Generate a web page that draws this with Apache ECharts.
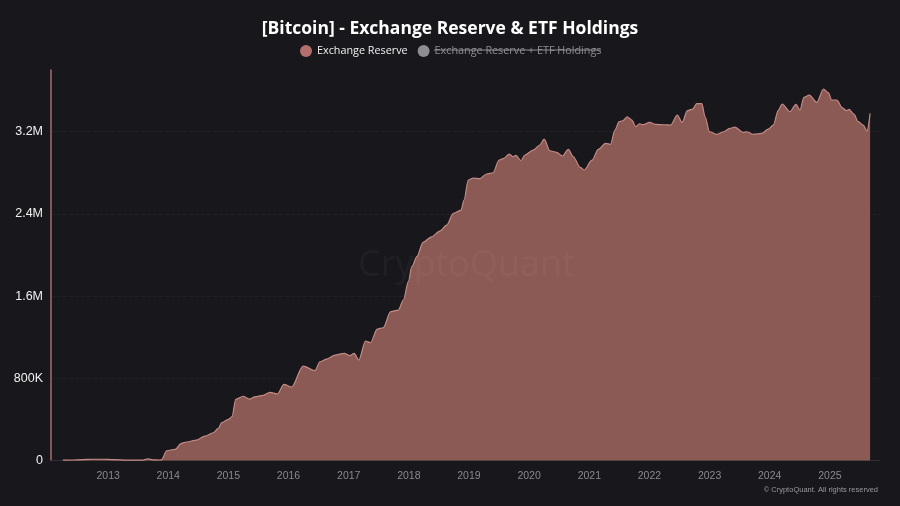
<!DOCTYPE html>
<html>
<head>
<meta charset="utf-8">
<style>html,body{margin:0;padding:0;background:#17171c}#c{width:900px;height:506px}</style>
<script src="https://cdn.jsdelivr.net/npm/echarts@6/dist/echarts.min.js"></script>
</head>
<body>
<div id="c"></div>
<script>
const titleText = '[Bitcoin] - Exchange Reserve & ETF Holdings';
const seriesA = 'Exchange Reserve';
const seriesB = 'Exchange Reserve + ETF Holdings';
const copyrightText = '© CryptoQuant. All rights reserved';
const watermarkText = 'CryptoQuant';
const dates = [
'2012-04-01','2012-06-01','2012-08-01','2012-10-01','2012-12-01','2013-02-01','2013-05-01','2013-08-01','2013-09-01','2013-10-01','2013-11-10','2013-11-22',
'2013-12-22','2014-02-12','2014-03-22','2014-04-22','2014-06-22','2014-08-12','2014-10-01','2014-11-01','2014-11-22','2015-01-01','2015-01-23','2015-02-15',
'2015-04-01','2015-05-10','2015-06-10','2015-08-01','2015-09-10','2015-10-25','2015-12-05','2016-01-20','2016-03-30','2016-06-10','2016-07-10','2016-08-20',
'2016-10-10','2016-12-05','2017-01-08','2017-02-03','2017-03-03','2017-04-13','2017-05-13','2017-06-23','2017-07-29','2017-09-13','2017-10-29','2017-11-29',
'2017-12-29','2018-01-19','2018-02-19','2018-03-28','2018-05-19','2018-07-08','2018-08-19','2018-09-28','2018-11-14','2018-12-02','2018-12-28','2019-01-27',
'2019-03-07','2019-04-18','2019-05-27','2019-07-03','2019-08-01','2019-09-03','2019-09-27','2019-10-13','2019-11-13','2019-12-07','2020-01-26','2020-03-06',
'2020-04-02','2020-05-06','2020-06-16','2020-07-22','2020-08-26','2020-09-26','2020-11-06','2020-12-01','2021-01-16','2021-02-25','2021-04-10','2021-05-10',
'2021-06-05','2021-07-01','2021-07-22','2021-08-19','2021-09-16','2021-10-10','2021-11-01','2021-11-25','2022-01-01','2022-02-05','2022-04-05','2022-05-10',
'2022-06-19','2022-07-19','2022-08-19','2022-09-21','2022-10-15','2022-11-15','2022-12-05','2023-01-01','2023-02-14','2023-03-28','2023-05-04','2023-06-04',
'2023-07-24','2023-08-14','2023-09-24','2023-11-14','2023-12-24','2024-01-23','2024-02-23','2024-03-17','2024-05-03','2024-06-09','2024-07-03','2024-07-27',
'2024-08-29','2024-10-13','2024-11-23','2024-12-22','2025-01-12','2025-02-12','2025-03-16','2025-04-12','2025-04-28','2025-05-26','2025-06-22','2025-07-22',
'2025-08-14','2025-09-02'
];
const reserveK = [
3,5,9,12,12,8,4,4,17,6,5,8,
95,109,167,180,199,238,270,313,368,400,426,595,
625,598,620,634,663,647,741,715,919,874,961,987,
1026,1043,1020,1043,978,1163,1146,1279,1292,1448,1464,1562,
1740,1886,1983,2123,2177,2233,2291,2405,2437,2535,2729,2749,
2742,2788,2800,2924,2940,2982,2956,2970,2917,2973,3021,3070,
3128,3014,2999,2963,3028,2956,2853,2827,2920,3028,3086,3077,
3216,3297,3306,3345,3313,3248,3277,3267,3291,3271,3267,3264,
3362,3291,3404,3420,3472,3472,3345,3199,3174,3199,3232,3245,
3193,3199,3174,3183,3225,3264,3410,3469,3394,3466,3410,3534,
3556,3485,3615,3579,3508,3508,3433,3404,3417,3371,3297,3264,
3206,3378
];
const chart = echarts.init(document.getElementById('c'));
chart.setOption({
  animation:false,
  backgroundColor:'#17171c',
  title:{text:titleText,left:'center',top:15,textStyle:{color:'#fff',fontFamily:'Open Sans',fontWeight:'bold',fontSize:17.5}},
  legend:{
    left:295,top:40,itemGap:10,itemWidth:12,itemHeight:12,icon:'circle',
    data:[seriesA,seriesB],selected:{[seriesB]:false},
    textStyle:{color:'#f0f0f0',fontFamily:'Open Sans',fontSize:10.8},
    inactiveColor:'#8e8e92',inactiveBorderColor:'#8e8e92'
  },
  grid:{left:51,right:20,top:70,bottom:45.5},
  xAxis:{
    type:'time',min:'2012-01-20',max:'2025-11-01',
    minInterval:365*24*3600*1000,maxInterval:366*24*3600*1000,
    axisLine:{show:true,lineStyle:{color:'#2e2e34',width:1}},
    axisTick:{show:false},
    splitLine:{show:false},
    axisLabel:{color:'#8a8a8e',fontFamily:'Liberation Sans',fontSize:10.5,margin:10,hideOverlap:false,
      formatter:{year:'{yyyy}',month:'',day:'',hour:'',minute:'',second:'',millisecond:'',none:''}}
  },
  yAxis:{
    type:'value',min:0,max:3800000,interval:800000,
    axisLine:{show:true,lineStyle:{color:'#a86c6c',width:1.5}},
    axisTick:{show:false},
    splitLine:{show:true,showMaxLine:false,lineStyle:{color:'#202025',width:1,type:'dashed'}},
    axisLabel:{color:'#f0f0f0',fontFamily:'Liberation Sans',fontSize:12.5,margin:8,
      formatter:function(v){
        if(v===0)return '0';
        if(v>3500000)return '';
        return v>=1000000?(v/1000000).toFixed(1)+'M':(v/1000)+'K';
      }}
  },
  series:[
    {name:seriesA,type:'line',showSymbol:false,symbol:'none',smooth:0.3,smoothMonotone:'x',
      data:dates.map((d,i)=>[d,reserveK[i]*1000]),
      itemStyle:{color:'#b26f6e'},
      lineStyle:{color:'#c48a86',width:1.2},
      areaStyle:{color:'#8c5a55',opacity:1}},
    {name:seriesB,type:'line',showSymbol:false,data:[],itemStyle:{color:'#8e8e92'}}
  ],
  graphic:[
    {type:'text',left:358,top:248,z:50,silent:true,style:{text:watermarkText,fill:'rgba(255,255,255,0.035)',font:'36px "Open Sans"'}},
    {type:'text',right:22,top:486,z:50,silent:true,style:{text:copyrightText,fill:'#9a9a9e',font:'7.5px "Liberation Sans"'}},
    {type:'line',z:50,silent:true,shape:{x1:434,y1:50,x2:601,y2:50},style:{stroke:'#8e8e92',lineWidth:1}}
  ]
});
</script>
</body>
</html>
